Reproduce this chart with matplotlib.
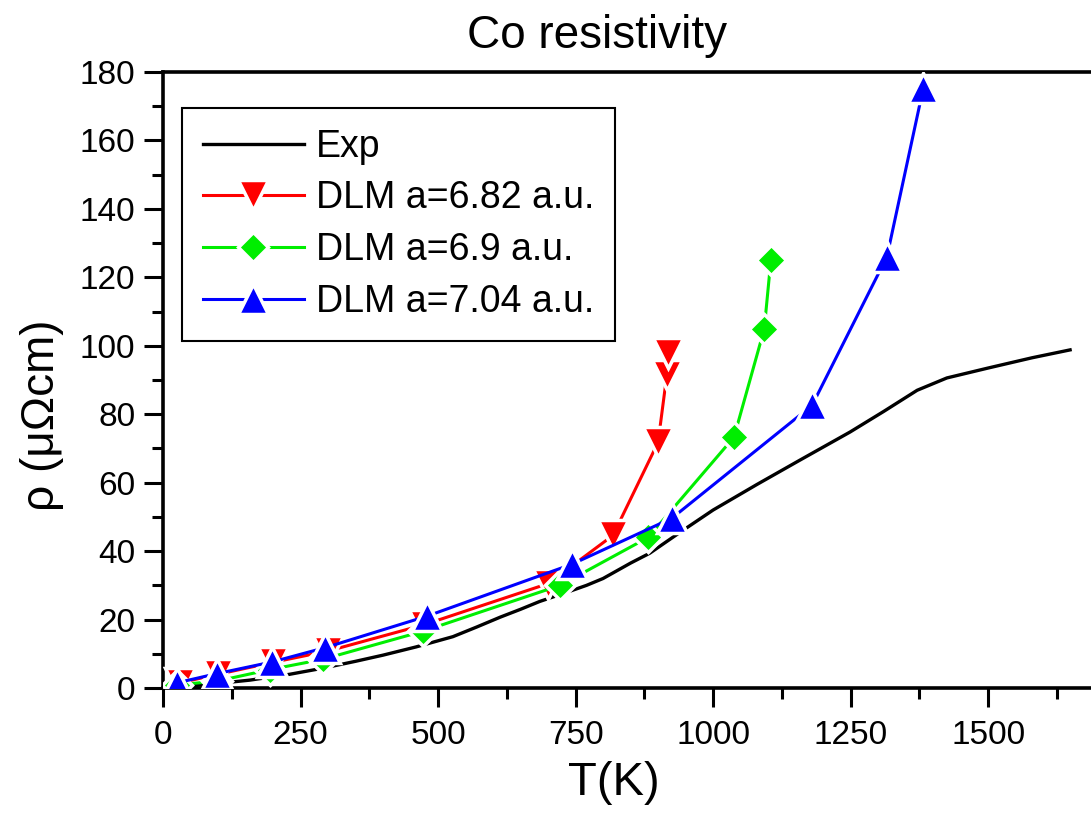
import numpy as np
import matplotlib
matplotlib.use('Agg')
import matplotlib.pyplot as plt

# Experimental resistivity of Co (black line)
exp_t = [0, 80, 158, 230, 291, 350, 400, 460, 527, 570, 613, 650,
         685, 720, 700, 740, 770, 800, 850, 885, 940, 1000, 1080,
         1158, 1249, 1310, 1371, 1425, 1500, 1580, 1649]
exp_rho = [0, 1.0, 2.3, 4.0, 5.8, 7.8, 9.6, 12.0, 15.0, 17.8, 20.7, 23.0,
           25.3, 27.2, 26.8, 28.3, 30.0, 32.0, 36.5, 39.4, 45.5, 52.0, 59.5,
           66.6, 74.8, 80.8, 87.0, 90.6, 93.5, 96.5, 98.8]

# DLM calculations
red_t = [30, 100, 200, 300, 475, 700, 818, 900, 916, 918]
red_rho = [1.5, 4.0, 7.5, 10.8, 18.5, 30.5, 44.6, 71.8, 91.6, 98.0]

green_t = [25, 98, 195, 291, 473, 722, 882, 1038, 1093, 1105]
green_rho = [0.9, 2.0, 5.4, 8.4, 16.6, 30.0, 44.0, 73.3, 104.9, 125.0]

blue_t = [25, 98, 198, 295, 480, 744, 925, 1180, 1316, 1382]
blue_rho = [1.5, 4.2, 7.6, 11.8, 21.0, 36.2, 49.6, 82.6, 126.0, 175.2]

x_ticks = [0, 250, 500, 750, 1000, 1250, 1500]
y_ticks = [0, 20, 40, 60, 80, 100, 120, 140, 160, 180]

plt.rcParams['font.family'] = ['Liberation Sans', 'DejaVu Sans']

fig = plt.figure(figsize=(10.91, 8.18), dpi=100)
ax = fig.add_axes([163/1091, 1-688/818, 1-163/1091, (688-72)/818])

ax.plot(exp_t, exp_rho, color='black', lw=2.4, label='Exp', zorder=2)
ax.plot(red_t, red_rho, color='#ff0000', lw=2.2, marker='v', ms=21,
        mec='white', mew=2.5, label='DLM a=6.82 a.u.', zorder=3)
ax.plot(green_t, green_rho, color='#00ee00', lw=2.2, marker='D', ms=15,
        mec='white', mew=2.5, label='DLM a=6.9 a.u.', zorder=4)
ax.plot(blue_t, blue_rho, color='#0000ff', lw=2.2, marker='^', ms=21,
        mec='white', mew=2.5, label='DLM a=7.04 a.u.', zorder=5)

ax.set_xlim(0, 1687)
ax.set_ylim(0, 180)
ax.set_xticks(x_ticks)
ax.set_xticks(np.arange(125, 1687, 250), minor=True)
ax.set_yticks(y_ticks)
ax.set_yticks(np.arange(10, 180, 20), minor=True)

ax.set_xticklabels([str(v) for v in x_ticks], fontsize=24)
ax.set_yticklabels([str(v) for v in y_ticks], fontsize=24)

ax.tick_params(which='major', direction='out', length=14, width=2.2)
ax.tick_params(which='minor', direction='out', length=8, width=2.2)
ax.tick_params(axis='x', which='major', pad=9)
ax.tick_params(axis='y', which='major', pad=6)
ax.tick_params(top=False, right=False)

for side in ['left', 'bottom', 'top']:
    ax.spines[side].set_linewidth(2.6)
ax.spines['right'].set_visible(False)

ax.set_xlabel('T(K)', fontsize=34)
ax.xaxis.set_label_coords((614-163)/928, -0.118)
ax.set_ylabel('ρ (μΩcm)', fontsize=33)
ax.yaxis.set_label_coords((64-163)/928, (688-415)/616)
fig.text(597/1091, 1-36/818, 'Co resistivity', fontsize=33,
         ha='center', va='center')

leg = ax.legend(loc='upper left', bbox_to_anchor=(182/1091, 1-108/818),
                bbox_transform=fig.transFigure, borderaxespad=0,
                fontsize=27, handlelength=2.7, handletextpad=0.33,
                labelspacing=0.42, borderpad=0.55, fancybox=False,
                framealpha=1, edgecolor='black')
leg.get_frame().set_linewidth(1.5)

fig.savefig('out.png', dpi=100)
